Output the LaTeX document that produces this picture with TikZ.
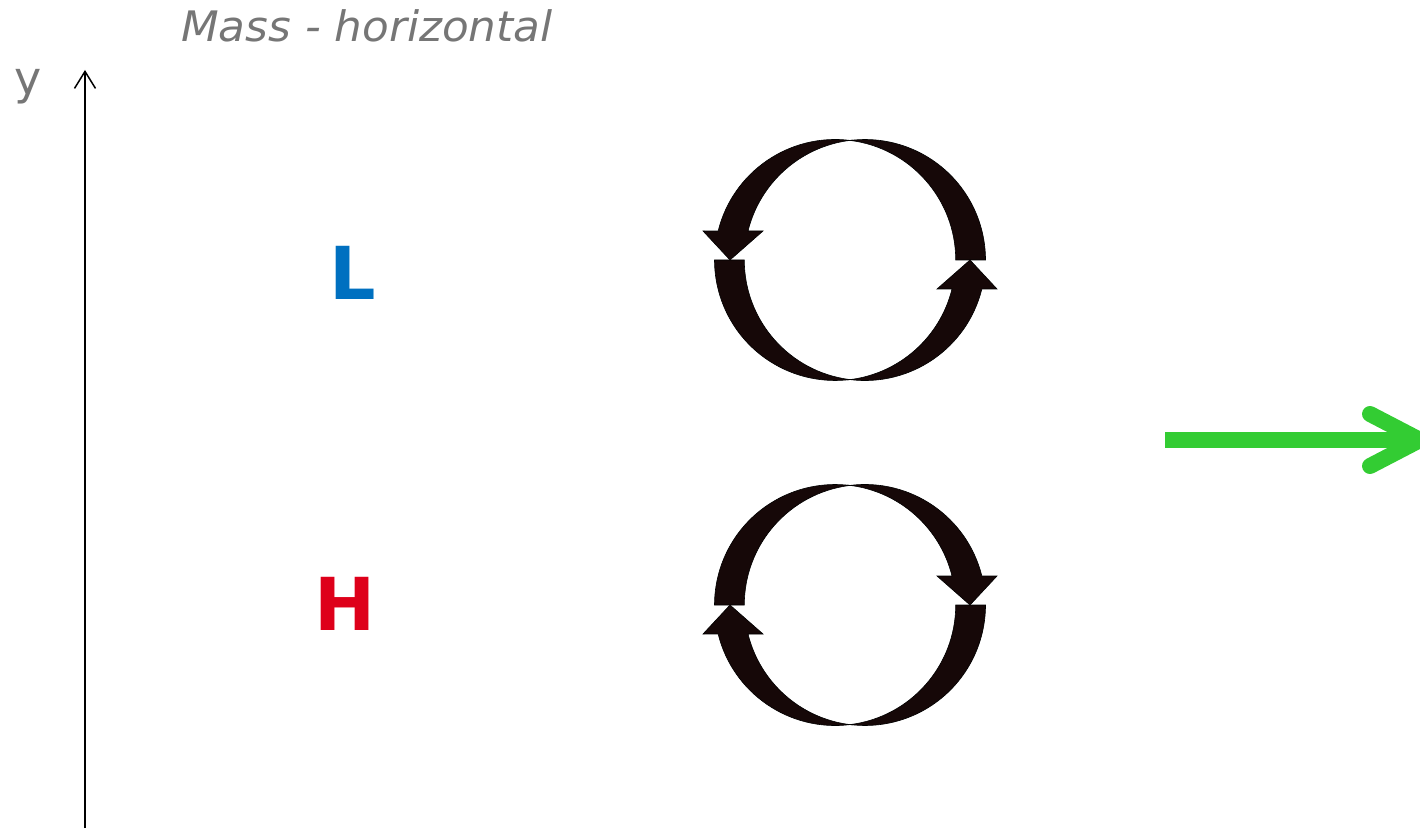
\documentclass[tikz,border=0pt]{standalone}
\usepackage{fontspec}
\newfontfamily\dvs{DejaVu Sans}
\usetikzlibrary{arrows.meta}
\definecolor{txtgray}{RGB}{118,118,118}
\definecolor{lblue}{RGB}{0,112,192}
\definecolor{hred}{RGB}{222,0,26}
\definecolor{arrgreen}{RGB}{51,204,51}
\definecolor{banddark}{RGB}{22,8,8}
\tikzset{
  band/.style={fill=banddark,draw=black,line width=0.6pt,line join=miter},
  greenline/.style={draw=arrgreen,line width=16pt},
  axisline/.style={draw=black,line width=1.5pt,-{Straight Barb[length=17pt,width=21pt,line width=1.5pt]}},
  graytext/.style={text=txtgray,inner sep=0pt,anchor=base west,xscale=1.04,transform shape,font={\dvs\itshape\fontsize{42pt}{48pt}\selectfont}},
  ylabel/.style={text=txtgray,inner sep=0pt,anchor=base west,font={\dvs\fontsize{46pt}{52pt}\selectfont}},
  biglabel/.style={inner sep=0pt,anchor=base west,font={\dvs\bfseries\fontsize{73pt}{80pt}\selectfont}},
  cyc/.pic={
    \foreach \r in {0,180}{
      \begin{scope}[rotate=\r]
        % upper right crescent: outer circle centred (15,0), inner circle centred (-15,0)
        \path[band] (135.5,0) arc[start angle=0,end angle=97.1,radius=120.5]
          arc[start angle=82.9,end angle=0,radius=120.5] -- cycle;
        % upper left crescent with arrow head
        \path[band] (0,119.6) arc[start angle=82.9,end angle=166.1,radius=120.5]
          -- (-147,29) -- (-120,0) -- (-87,29) -- (-102,29)
          arc[start angle=166.1,end angle=97.1,radius=120.5] -- cycle;
      \end{scope}
    }
  }
}
\begin{document}
\begin{tikzpicture}[x=1pt,y=1pt]
\useasboundingbox (0,0) rectangle (1420,828);
\clip (0,0) rectangle (1420,828);
% axis
\coordinate (axbot) at (85,0);
\coordinate (axtop) at (85,758);
\draw[axisline] (axbot) -- (axtop);
\node[ylabel] (ylab) at (14,733) {y};
\node[graytext] (title) at (181,786) {Mass - horizontal};
% labels
\node[biglabel,text=lblue] (Llab) at (329,528) {L};
\node[biglabel,text=hred] (Hlab) at (314,198) {H};
% circulation arrows
\pic at (850,568) {cyc};
\pic[yscale=-1] at (850,223) {cyc};
% green arrow
\coordinate (gs) at (1165,388);
\coordinate (ge) at (1412,388);
\coordinate (gtip) at (1420,388);
\coordinate (gup) at (1370,414);
\coordinate (gdn) at (1370,362);
\draw[greenline,line cap=butt] (gs) -- (ge);
\draw[greenline,line cap=round,line join=miter] (gup) -- (gtip) -- (gdn);
\end{tikzpicture}
\end{document}
